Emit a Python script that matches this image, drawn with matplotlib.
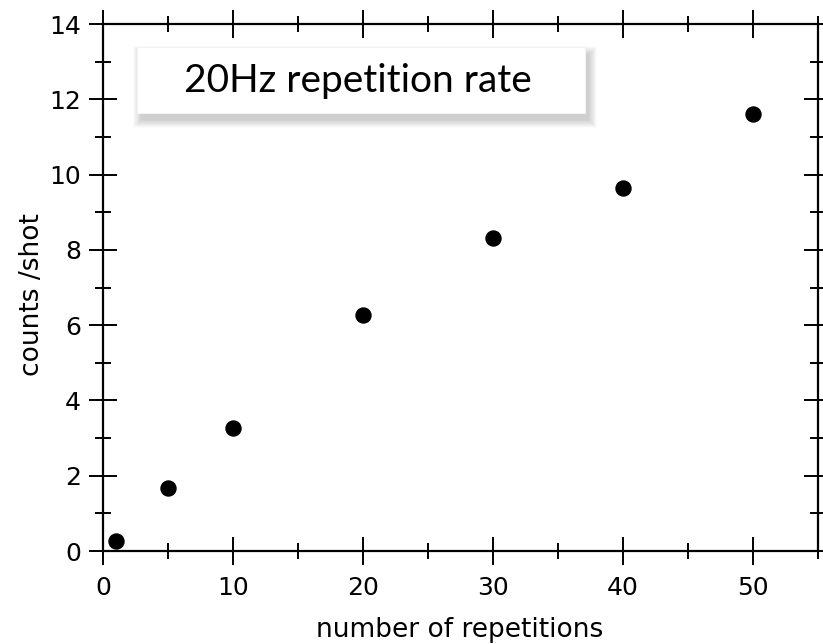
import numpy as np
import matplotlib.pyplot as plt
from matplotlib.patches import Rectangle
from matplotlib.ticker import MultipleLocator

# repeticiones vs cuentas por disparo
repeticiones = [1, 5, 10, 20, 30, 40, 50]
cuentas = [0.27, 1.67, 3.27, 6.27, 8.32, 9.64, 11.6]

plt.rcParams['font.family'] = ['DejaVu Sans']

fig = plt.figure(figsize=(8.23, 6.44), dpi=100)
ax = fig.add_axes([0.1252, 0.1444, 0.8687, 0.8183])

ax.plot(repeticiones, cuentas, 'o', color='black', markersize=10.8, zorder=5, clip_on=False)

ax.set_xlim(0, 55)
ax.set_ylim(0, 14)
ax.xaxis.set_major_locator(MultipleLocator(10))
ax.xaxis.set_minor_locator(MultipleLocator(5))
ax.yaxis.set_major_locator(MultipleLocator(2))
ax.yaxis.set_minor_locator(MultipleLocator(1))
ax.tick_params(which='both', direction='inout', top=True, right=True,
               labeltop=False, labelright=False, width=1.4, labelsize=18)
ax.tick_params(which='major', length=20)
ax.tick_params(which='minor', length=11)
ax.tick_params(axis='x', which='major', pad=8)
ax.tick_params(axis='y', which='major', pad=6)
for s in ax.spines.values():
    s.set_linewidth(1.6)

fig.text(460 / 823, 7 / 644, 'number of repetitions', fontsize=19,
         ha='center', va='baseline')
fig.text(39 / 823, 1 - 295 / 644, 'counts /shot', fontsize=19,
         ha='center', va='baseline', rotation=90, rotation_mode='anchor')

# recuadro con sombra difusa
x0, y0, w, h = 137, 644 - 113, 448, 66
for k in range(12):
    d = 1.4 * k
    ax.add_patch(Rectangle((x0 + 4 - d / 2, y0 - 7 - d / 2), w + d, h + d,
                           transform=None, facecolor='black', alpha=0.017,
                           edgecolor='none', zorder=6))
ax.add_patch(Rectangle((x0, y0), w, h, transform=None, facecolor='white',
                       edgecolor='#f2f2f2', linewidth=0.8, zorder=7))
fig.text((x0 + w / 2 - 3) / 823, 1 - 81 / 644, '20Hz repetition rate',
         ha='center', va='center', fontsize=28, family=['Lato', 'DejaVu Sans'],
         zorder=8)

fig.savefig('out.png', dpi=100)
